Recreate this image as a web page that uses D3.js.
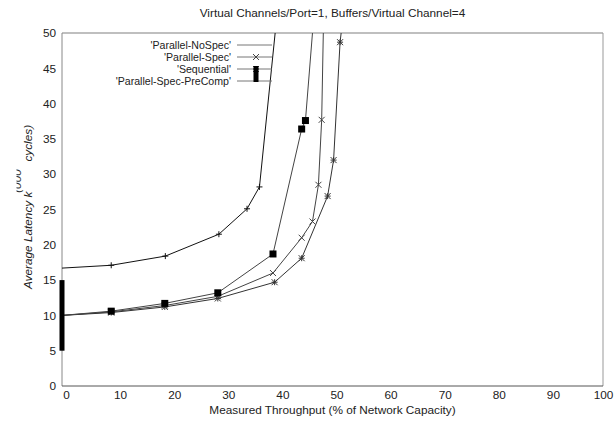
<!DOCTYPE html>
<html>
<head>
<meta charset="utf-8">
<script src="https://cdn.jsdelivr.net/npm/d3@7"></script>
<style>
  html, body { margin: 0; padding: 0; background: #fff; }
  svg { display: block; font-family: "Liberation Sans", Arial, sans-serif; }
</style>
</head>
<body>
<svg id="chart" width="616" height="421"></svg>
<script>
// ---- data ----
const titleText = "Virtual Channels/Port=1, Buffers/Virtual Channel=4";
const xTicks = [0, 10, 20, 30, 40, 50, 60, 70, 80, 90, 100];
const yTicks = [0, 5, 10, 15, 20, 25, 30, 35, 40, 45, 50];
const seriesNames = ["'Parallel-NoSpec'", "'Parallel-Spec'", "'Sequential'", "'Parallel-Spec-PreComp'"];
const noSpec = [[0,16.7],[9.1,17.1],[19.1,18.4],[29.0,21.5],[34.2,25.1],[36.5,28.2],[39.4,50]];
const spec = [[0,10],[9.1,10.5],[19.0,11.4],[28.8,12.7],[39.0,16.0],[44.3,21.0],[46.3,23.3],[47.4,28.5],[48.0,37.7],[48.3,50]];
const sequential = [[0,10],[9.1,10.4],[19.0,11.2],[28.8,12.4],[39.3,14.7],[44.3,18.1],[49.1,26.9],[50.2,32.0],[51.4,48.7],[51.6,50]];
const preComp = [[0,10],[9.1,10.6],[19.0,11.7],[28.8,13.2],[39.0,18.7],[44.3,36.4],[45.0,37.6],[46.3,50]];
const preCompBar = [0, 5, 15]; // x, low, high

const series = [
  {name: seriesNames[0], data: noSpec, marker: "plus", color: "#111"},
  {name: seriesNames[1], data: spec, marker: "cross", color: "#444"},
  {name: seriesNames[2], data: sequential, marker: "star", color: "#333"},
  {name: seriesNames[3], data: preComp, marker: "square", color: "#444"}
];

// ---- layout ----
const FS = 11.8;
const svg = d3.select("#chart");
const L = 62, R = 603, T = 33, B = 386;
const x = d3.scaleLinear().domain([0, 100]).range([L, R]);
const y = d3.scaleLinear().domain([0, 50]).range([B, T]);

const defs = svg.append("defs");
defs.append("clipPath").attr("id", "plotclip")
  .append("rect").attr("x", L - 4).attr("y", T).attr("width", R - L + 8).attr("height", B - T + 4);
defs.append("clipPath").attr("id", "ylclip")
  .append("rect").attr("x", 16.5).attr("y", 150).attr("width", 12).attr("height", 60);

// title
svg.append("text").attr("x", (L + R) / 2).attr("y", 17).attr("text-anchor", "middle")
  .attr("font-size", FS).attr("fill", "#222").text(titleText);

// axes
const xAxis = svg.append("g").attr("transform", `translate(0,${B})`)
  .call(d3.axisBottom(x).tickValues(xTicks).tickSize(0).tickPadding(5).tickFormat(d3.format("d")));
xAxis.select(".domain").remove();
xAxis.selectAll("text").attr("font-size", FS).attr("fill", "#222").attr("dx", d => d === 100 ? 0 : 4)
  .style("font-family", "Liberation Sans, Arial, sans-serif");

const yAxis = svg.append("g").attr("transform", `translate(${L},0)`)
  .call(d3.axisLeft(y).tickValues(yTicks).tickSize(0).tickPadding(6).tickFormat(d3.format("d")));
yAxis.select(".domain").remove();
yAxis.selectAll("text").attr("font-size", FS).attr("fill", "#222")
  .style("font-family", "Liberation Sans, Arial, sans-serif");

// frame
svg.append("line").attr("x1", L).attr("x2", R).attr("y1", T).attr("y2", T).attr("stroke", "#aaa").attr("stroke-width", 1.5);
svg.append("line").attr("x1", R).attr("x2", R).attr("y1", T).attr("y2", B).attr("stroke", "#999");
svg.append("line").attr("x1", L).attr("x2", L).attr("y1", T).attr("y2", B).attr("stroke", "#888");
svg.append("line").attr("x1", L).attr("x2", R).attr("y1", B).attr("y2", B).attr("stroke", "#555");

// axis titles
svg.append("text").attr("x", (L + R) / 2).attr("y", 414).attr("text-anchor", "middle")
  .attr("font-size", FS).attr("fill", "#222").text("Measured Throughput (% of Network Capacity)");

const yl = svg.append("text").attr("transform", "translate(32,207) rotate(-90)")
  .attr("text-anchor", "middle").attr("font-size", FS).attr("font-style", "italic").attr("fill", "#222");
yl.append("tspan").text("Average Latency k");
yl.append("tspan").attr("dx", 30).text("cycles)");

svg.append("g").attr("clip-path", "url(#ylclip)")
  .append("text").attr("transform", "translate(21,181) rotate(-90)")
  .attr("text-anchor", "middle").attr("font-size", FS).attr("font-style", "italic").attr("fill", "#333").text("(000");

// marker drawing
function drawMarker(g, type, cx, cy, color) {
  if (type === "square") {
    g.append("rect").attr("x", cx - 3.5).attr("y", cy - 3.5).attr("width", 7).attr("height", 7).attr("fill", "#000");
    return;
  }
  let p = "";
  const s = 3;
  if (type === "plus" || type === "star") p += `M${cx - s},${cy}H${cx + s}M${cx},${cy - s}V${cy + s}`;
  if (type === "cross" || type === "star") p += `M${cx - s},${cy - s}L${cx + s},${cy + s}M${cx - s},${cy + s}L${cx + s},${cy - s}`;
  g.append("path").attr("d", p).attr("stroke", color).attr("stroke-width", 1).attr("fill", "none");
}

const plot = svg.append("g").attr("clip-path", "url(#plotclip)");
const line = d3.line().x(d => x(d[0])).y(d => y(d[1]));

series.forEach(s => {
  plot.append("path").datum(s.data).attr("d", line).attr("fill", "none")
    .attr("stroke", s.color).attr("stroke-width", 1);
});
series.forEach(s => {
  s.data.forEach((d, i) => {
    if (i === 0 || d[1] >= 50) return;
    drawMarker(plot, s.marker, x(d[0]), y(d[1]), s.color);
  });
});

// vertical bar at x=0
svg.append("rect").attr("x", x(preCompBar[0]) - 2.5).attr("y", y(preCompBar[2]))
  .attr("width", 5).attr("height", y(preCompBar[1]) - y(preCompBar[2])).attr("fill", "#000");

// legend
const LFS = 10.6;
const legRows = [45, 57, 69, 81];
const lg = svg.append("g");
series.forEach((s, i) => {
  const ry = legRows[i];
  lg.append("text").attr("x", 231).attr("y", ry + 3.5).attr("text-anchor", "end")
    .attr("font-size", LFS).attr("fill", "#222").text(s.name);
  lg.append("line").attr("x1", 237).attr("x2", 272).attr("y1", ry).attr("y2", ry)
    .attr("stroke", "#777").attr("stroke-width", 1);
});
drawMarker(lg, "cross", 256, legRows[1], "#444");
drawMarker(lg, "star", 256, legRows[2], "#444");
lg.append("rect").attr("x", 253.5).attr("y", legRows[2] - 3).attr("width", 5).attr("height", legRows[3] - legRows[2] + 4).attr("fill", "#000");
</script>
</body>
</html>
